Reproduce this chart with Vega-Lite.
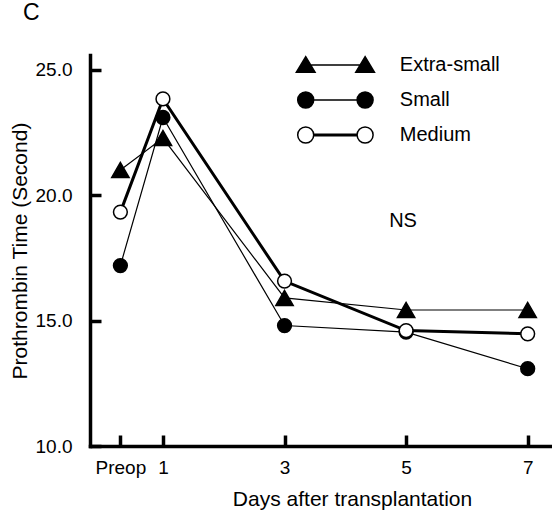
{
  "$schema": "https://vega.github.io/schema/vega-lite/v6.json",
  "width": 462,
  "height": 391,
  "autosize": {"type": "none"},
  "padding": {"left": 90, "top": 55, "right": 0, "bottom": 67},
  "background": "white",
  "config": {
    "view": {"stroke": null},
    "font": "Liberation Sans",
    "axis": {
      "domainColor": "black",
      "tickColor": "black",
      "labelColor": "black",
      "titleColor": "black",
      "domainWidth": 3.5,
      "tickWidth": 3.5,
      "domainCap": "square",
      "tickSize": -11,
      "grid": false,
      "labelFont": "Liberation Sans",
      "titleFont": "Liberation Sans",
      "labelFontSize": 19,
      "titleFontSize": 21,
      "titleFontWeight": "normal"
    }
  },
  "title": {
    "text": "C",
    "anchor": "start",
    "frame": "group",
    "fontSize": 23,
    "fontWeight": "normal",
    "font": "Liberation Sans",
    "baseline": "alphabetic",
    "offset": 12,
    "dx": -67,
    "color": "black"
  },
  "datasets": {
    "pt": [
      {"series": "Extra-small", "day": 0.3, "pt": 21.0},
      {"series": "Extra-small", "day": 1, "pt": 22.27},
      {"series": "Extra-small", "day": 3, "pt": 15.9},
      {"series": "Extra-small", "day": 5, "pt": 15.42},
      {"series": "Extra-small", "day": 7, "pt": 15.42},
      {"series": "Small", "day": 0.3, "pt": 17.19},
      {"series": "Small", "day": 1, "pt": 23.09},
      {"series": "Small", "day": 3, "pt": 14.8},
      {"series": "Small", "day": 5, "pt": 14.54},
      {"series": "Small", "day": 7, "pt": 13.08},
      {"series": "Medium", "day": 0.3, "pt": 19.32},
      {"series": "Medium", "day": 1, "pt": 23.83},
      {"series": "Medium", "day": 3, "pt": 16.57},
      {"series": "Medium", "day": 5, "pt": 14.6},
      {"series": "Medium", "day": 7, "pt": 14.47}
    ],
    "note": [{"note": "NS"}]
  },
  "layer": [
    {
      "data": {"name": "pt"},
      "mark": {"type": "line", "color": "black"},
      "encoding": {
        "x": {
          "field": "day",
          "type": "quantitative",
          "scale": {"domain": [-0.2, 7.4], "nice": false, "zero": false},
          "axis": {
            "values": [0.3, 1, 3, 5, 7],
            "labelExpr": "datum.value < 0.5 ? 'Preop' : format(datum.value, 'd')",
            "title": "Days after transplantation",
            "labelPadding": 23.6,
            "titlePadding": 11,
            "titleX": 262,
            "labelFlush": false
          }
        },
        "y": {
          "field": "pt",
          "type": "quantitative",
          "scale": {"domain": [10, 25.58], "nice": false, "zero": false},
          "axis": {
            "values": [10, 15, 20, 25],
            "format": ".1f",
            "title": "Prothrombin Time (Second)",
            "labelPadding": 29,
            "titlePadding": 5
          }
        },
        "detail": {"field": "series"},
        "strokeWidth": {"condition": {"test": "datum.series === 'Medium'", "value": 3}, "value": 1.2}
      }
    },
    {
      "data": {"name": "pt"},
      "mark": {"type": "point", "filled": true, "stroke": "black", "strokeWidth": 1.5, "opacity": 1},
      "encoding": {
        "x": {"field": "day", "type": "quantitative"},
        "y": {"field": "pt", "type": "quantitative"},
        "shape": {"condition": {"test": "datum.series === 'Extra-small'", "value": "triangle-up"}, "value": "circle"},
        "fill": {"condition": {"test": "datum.series === 'Medium'", "value": "white"}, "value": "black"},
        "size": {"condition": {"test": "datum.series === 'Extra-small'", "value": 300}, "value": 190}
      }
    },
    {
      "data": {"name": "pt"},
      "transform": [{"filter": "false"}],
      "mark": {"type": "point", "filled": true, "stroke": "black", "strokeWidth": 1.2, "opacity": 1},
      "encoding": {
        "x": {"field": "day", "type": "quantitative"},
        "y": {"field": "pt", "type": "quantitative"},
        "shape": {
          "field": "series",
          "type": "nominal",
          "scale": {
            "domain": ["Extra-small", "Small", "Medium"],
            "range": [
              "M-5.94,-1.66L-4.07,1.46L-7.81,1.46ZM5.94,-1.66L7.81,1.46L4.07,1.46ZM-5.94,0L5.94,0",
              "M-4.34,0C-4.34,0.884 -5.056,1.6 -5.94,1.6C-6.824,1.6 -7.54,0.884 -7.54,0C-7.54,-0.884 -6.824,-1.6 -5.94,-1.6C-5.056,-1.6 -4.34,-0.884 -4.34,0ZM7.54,0C7.54,0.884 6.824,1.6 5.94,1.6C5.056,1.6 4.34,0.884 4.34,0C4.34,-0.884 5.056,-1.6 5.94,-1.6C6.824,-1.6 7.54,-0.884 7.54,0ZM-4.34,0L4.34,0",
              "M-4.34,0C-4.34,0.884 -5.056,1.6 -5.94,1.6C-6.824,1.6 -7.54,0.884 -7.54,0C-7.54,-0.884 -6.824,-1.6 -5.94,-1.6C-5.056,-1.6 -4.34,-0.884 -4.34,0ZM7.54,0C7.54,0.884 6.824,1.6 5.94,1.6C5.056,1.6 4.34,0.884 4.34,0C4.34,-0.884 5.056,-1.6 5.94,-1.6C6.824,-1.6 7.54,-0.884 7.54,0ZM-4.34,-0.15L4.34,-0.15L4.34,0.15L-4.34,0.15Z"
            ]
          },
          "legend": {
            "orient": "none",
            "legendX": 235.4,
            "legendY": 0,
            "title": null,
            "padding": 0,
            "labelFont": "Liberation Sans",
            "labelFontSize": 20,
            "labelColor": "black",
            "labelOffset": 54.4,
            "symbolSize": 100,
            "symbolOffset": 0,
            "rowPadding": 13
          }
        },
        "fill": {
          "field": "series",
          "type": "nominal",
          "scale": {"domain": ["Extra-small", "Small", "Medium"], "range": ["black", "black", "white"]}
        }
      }
    },
    {
      "data": {"name": "note"},
      "mark": {"type": "text", "fontSize": 20, "font": "Liberation Sans", "color": "black"},
      "encoding": {
        "x": {"datum": 4.95, "type": "quantitative"},
        "y": {"datum": 18.96, "type": "quantitative"},
        "text": {"field": "note", "type": "nominal"}
      }
    }
  ]
}
